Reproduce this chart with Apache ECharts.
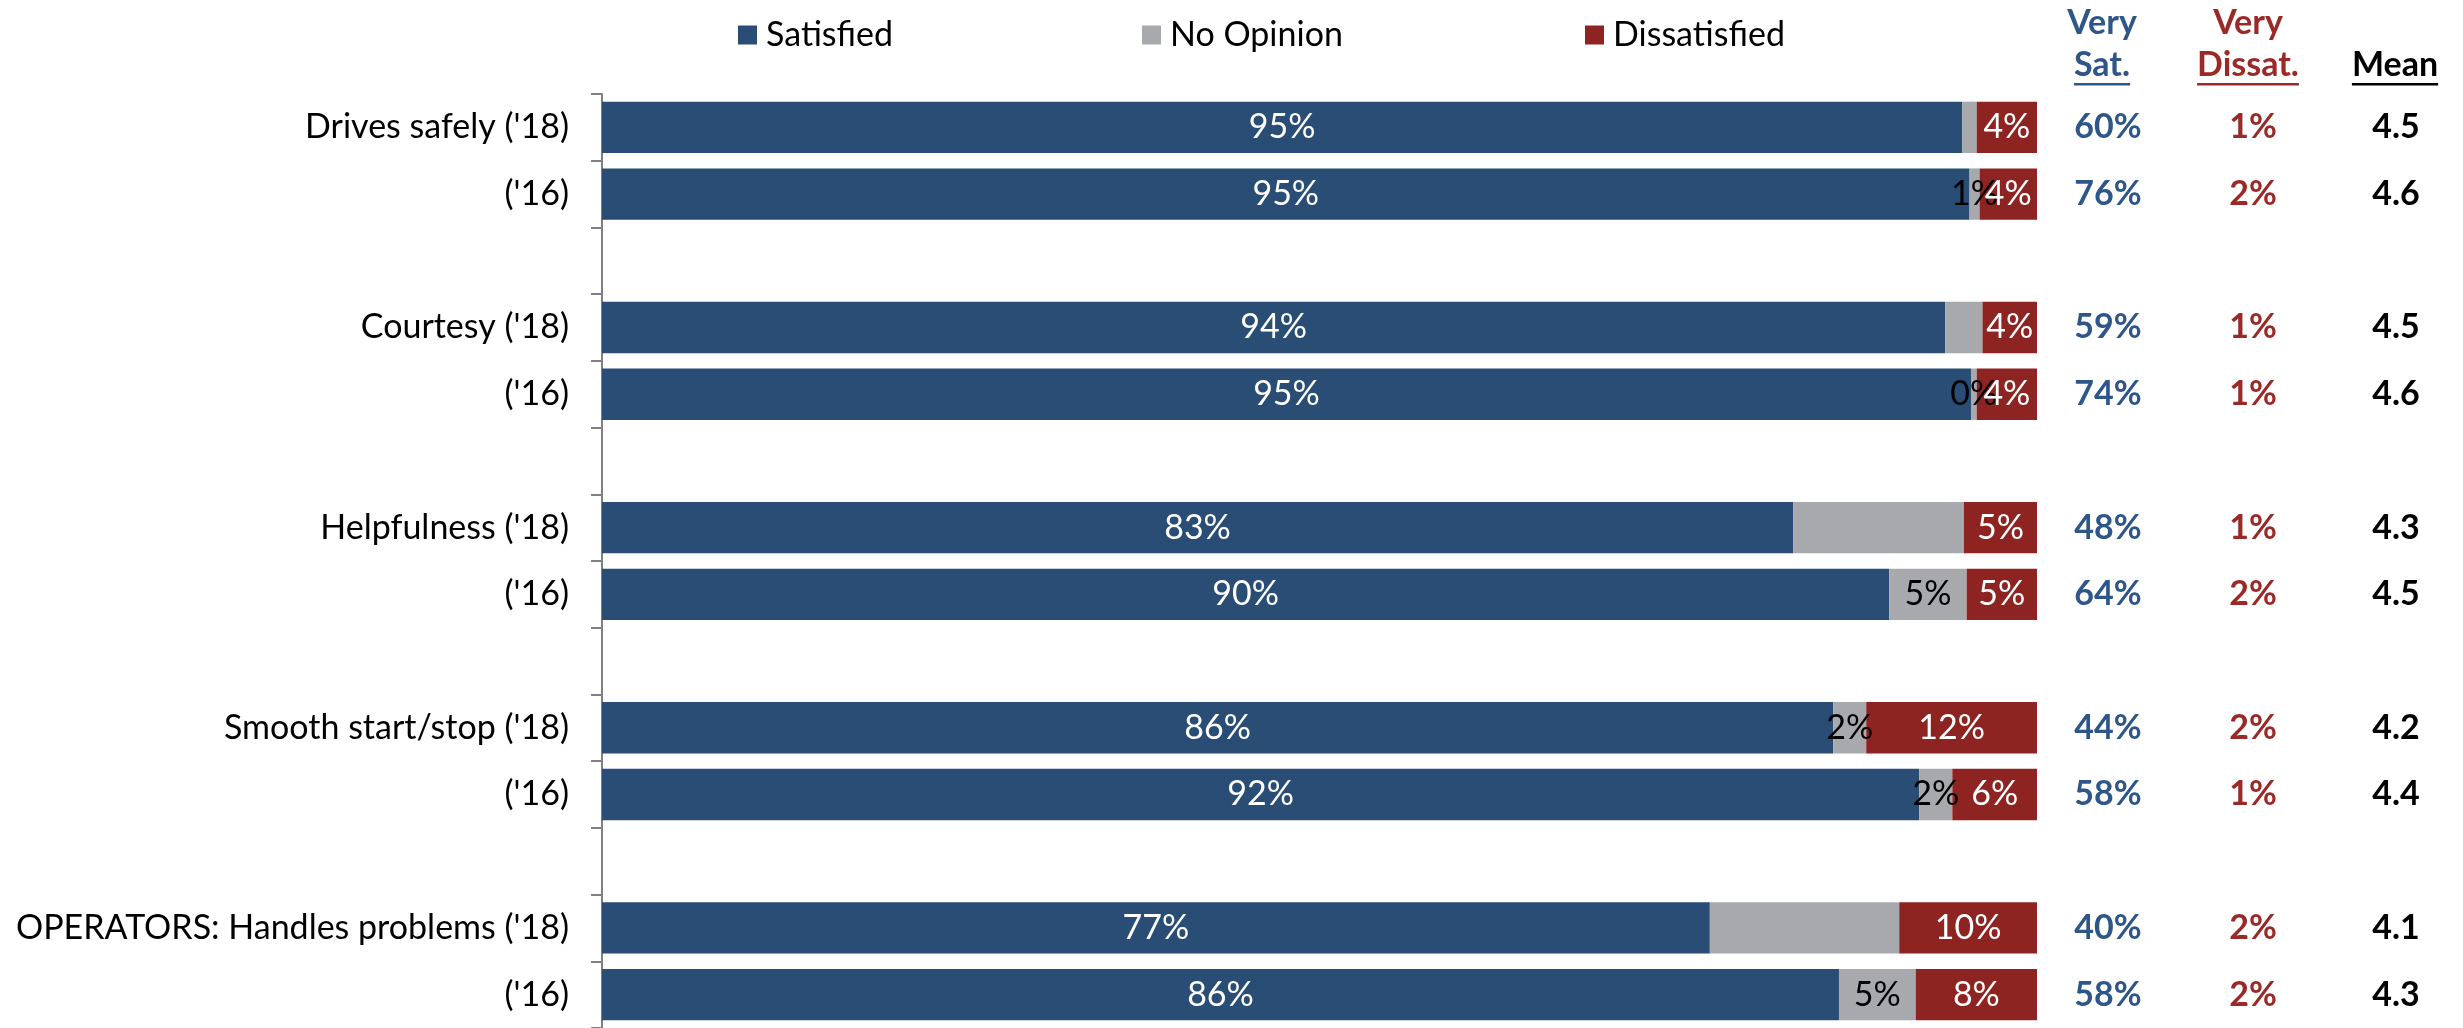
<!DOCTYPE html>
<html><head><meta charset="utf-8">
<script src="https://cdn.jsdelivr.net/npm/echarts@6/dist/echarts.min.js"></script>
<style>html,body{margin:0;padding:0;background:#fff}#c{width:2463px;height:1028px}</style>
</head><body><div id="c"></div>
<script>
// ---- data ----
const categories = ["Drives safely ('18)", "('16)", "", "Courtesy ('18)", "('16)", "", "Helpfulness ('18)", "('16)", "", "Smooth start/stop ('18)", "('16)", "", "OPERATORS: Handles problems ('18)", "('16)"];
const rowSlots = [0, 1, 3, 4, 6, 7, 9, 10, 12, 13];
const satisfied    = [94.8, 95.3, 93.6, 95.4, 83.0, 89.7, 85.8, 91.8, 77.2, 86.2];
const noOpinion    = [1.0, 0.7, 2.6, 0.4, 11.9, 5.4, 2.3, 2.3, 13.2, 5.35];
const dissatisfied = [4.2, 4.0, 3.8, 4.2, 5.1, 4.9, 11.9, 5.9, 9.6, 8.45];
const noOpinionLabelShown = [false, true, false, true, false, true, true, true, false, true];
const verySat    = [60, 76, 59, 74, 48, 64, 44, 58, 40, 58];
const veryDissat = [1, 2, 1, 1, 1, 2, 2, 1, 2, 2];
const meanScore  = [4.5, 4.6, 4.5, 4.6, 4.3, 4.5, 4.2, 4.4, 4.1, 4.3];
const seriesNames = ['Satisfied', 'No Opinion', 'Dissatisfied'];

// ---- styles ----
const FONT = "Lato, 'Open Sans', sans-serif";
const FS = 34;
const C_BLUE = '#294D75', C_GRAY = '#A8A9AD', C_RED = '#8E2422';
const C_VS = '#2E5688', C_VD = '#9A2A28';

function toSlots(arr, fn, empty) {
  const out = categories.map(() => empty);
  rowSlots.forEach((s, i) => { out[s] = fn ? fn(arr[i], i) : arr[i]; });
  return out;
}
const pct = v => Math.round(v) + '%';

const labelBase = { show: true, position: 'inside', fontFamily: FONT, fontSize: FS, formatter: p => pct(p.value) };

const chart = echarts.init(document.getElementById('c'), null, { renderer: 'canvas' });

// measure header widths for underlines
const cv = document.createElement('canvas').getContext('2d');
cv.font = 'bold ' + FS + 'px ' + FONT;
const w = t => cv.measureText(t).width;

const headers = [
  { top: 'Very', bottom: 'Sat.', x: 2102, color: C_VS },
  { top: 'Very', bottom: 'Dissat.', x: 2248, color: C_VD },
  { top: '', bottom: 'Mean', x: 2395, color: '#000' }
];
const graphic = [];
headers.forEach(h => {
  if (h.top) graphic.push({ type: 'text', x: h.x, y: 23, style: { text: h.top, fill: h.color, font: 'bold ' + FS + 'px ' + FONT, textAlign: 'center', textVerticalAlign: 'middle' } });
  graphic.push({ type: 'text', x: h.x, y: 65, style: { text: h.bottom, fill: h.color, font: 'bold ' + FS + 'px ' + FONT, textAlign: 'center', textVerticalAlign: 'middle' } });
  const bw = w(h.bottom);
  graphic.push({ type: 'rect', shape: { x: h.x - bw / 2, y: 83, width: bw, height: 2.5 }, style: { fill: h.color } });
});

const rightAxis = (vals, fmt, margin, color) => ({
  type: 'category', data: toSlots(vals, fmt, ''), inverse: true, position: 'right', offset: 0,
  axisLine: { show: false }, axisTick: { show: false }, splitLine: { show: false },
  axisLabel: { interval: 0, margin: margin, align: 'center', color: color, fontWeight: 'bold', fontSize: FS, fontFamily: FONT }
});

const legendLeft = [738, 1142, 1585];

chart.setOption({
  animation: false,
  backgroundColor: '#fff',
  grid: { left: 602, top: 94, width: 1435, height: 939, containLabel: false },
  legend: seriesNames.map((n, i) => ({
    data: [n], left: legendLeft[i], top: 18, padding: 0, itemWidth: 19, itemHeight: 19, itemGap: 6, icon: 'rect',
    selectedMode: false, textStyle: { fontFamily: FONT, fontSize: FS, color: '#000', padding: [0, 0, 0, 4] }
  })),
  xAxis: { type: 'value', min: 0, max: 100, show: false },
  yAxis: [
    {
      type: 'category', data: categories, inverse: true,
      axisLine: { show: true, lineStyle: { color: '#808080', width: 2 } },
      axisTick: { show: true, length: 11, interval: 0, lineStyle: { color: '#808080', width: 2 } },
      axisLabel: { interval: 0, margin: 33, color: '#000', fontSize: FS, fontFamily: FONT },
      splitLine: { show: false }
    },
    rightAxis(verySat, v => v + '%', 71, C_VS),
    rightAxis(veryDissat, v => v + '%', 216, C_VD),
    rightAxis(meanScore, v => v.toFixed(1), 359, '#000')
  ],
  graphic: graphic,
  series: [
    {
      name: seriesNames[0], type: 'bar', stack: 'all', barCategoryGap: '23%',
      itemStyle: { color: C_BLUE },
      label: Object.assign({}, labelBase, { color: '#fff' }),
      data: toSlots(satisfied, null, '-')
    },
    {
      name: seriesNames[1], type: 'bar', stack: 'all', barCategoryGap: '23%',
      itemStyle: { color: C_GRAY },
      label: Object.assign({}, labelBase, { color: '#000' }),
      data: toSlots(noOpinion, (v, i) => ({ value: v, label: { show: noOpinionLabelShown[i] } }), '-')
    },
    {
      name: seriesNames[2], type: 'bar', stack: 'all', barCategoryGap: '23%',
      itemStyle: { color: C_RED },
      label: Object.assign({}, labelBase, { color: '#fff' }),
      data: toSlots(dissatisfied, null, '-')
    }
  ]
});
</script>
</body></html>
